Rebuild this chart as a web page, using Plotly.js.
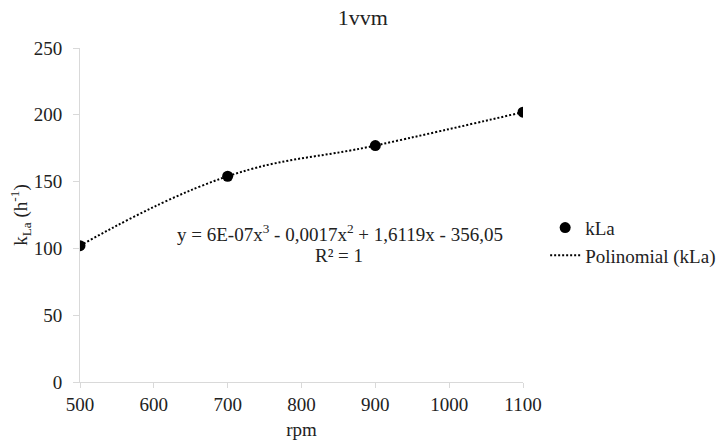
<!DOCTYPE html>
<html>
<head>
<meta charset="utf-8">
<script src="https://cdn.plot.ly/plotly-3.0.1.min.js"></script>
<style>
  html, body { margin: 0; padding: 0; background: #fff; }
  #chart { width: 717px; height: 442px; }
</style>
</head>
<body>
<div id="chart"></div>
<script>
// Agitation speed (rpm) and measured volumetric mass transfer coefficient kLa (h^-1) at 1 vvm
const rpm = [500, 700, 900, 1100];
const kLa = [102, 154, 177, 202];

const xTicks = [500, 600, 700, 800, 900, 1000, 1100];
const yTicks = [0, 50, 100, 150, 200, 250];

const equationText = 'y = 6E-07x<sup>3</sup> - 0,0017x<sup>2</sup> + 1,6119x - 356,05';
const r2Text = 'R² = 1';

const FONT = 'Liberation Serif';
const TEXT = '#222222';
const AXIS_GREY = '#d9d9d9';
const SIZE = 19;

const traces = [
  {
    x: rpm,
    y: kLa,
    type: 'scatter',
    mode: 'markers',
    name: 'kLa',
    marker: { color: '#000', size: 11 }
  },
  {
    x: rpm,
    y: kLa,
    type: 'scatter',
    mode: 'lines',
    name: 'Polinomial (kLa)',
    line: { color: '#000', width: 2, dash: '2px,2px', shape: 'spline', smoothing: 1.2 }
  }
];

const layout = {
  width: 717,
  height: 442,
  paper_bgcolor: '#fff',
  plot_bgcolor: '#fff',
  font: { family: FONT, size: SIZE, color: TEXT },
  margin: { l: 80, r: 194, t: 48, b: 60, autoexpand: false },
  title: {
    text: '1vvm',
    font: { family: FONT, size: 22, color: TEXT },
    x: 0.506, xref: 'container', xanchor: 'center',
    y: 0.96, yref: 'container', yanchor: 'middle'
  },
  xaxis: {
    range: [500, 1100],
    tickvals: xTicks,
    ticktext: xTicks.map(String),
    showgrid: false,
    zeroline: false,
    showline: true,
    linecolor: AXIS_GREY,
    linewidth: 1,
    ticks: 'outside',
    ticklen: 5,
    tickcolor: AXIS_GREY,
    tickfont: { family: FONT, size: SIZE, color: TEXT },
    title: { text: 'rpm', font: { family: FONT, size: SIZE, color: TEXT }, standoff: 8 }
  },
  yaxis: {
    range: [0, 250],
    tickvals: yTicks,
    ticktext: yTicks.map(String),
    showgrid: false,
    zeroline: false,
    showline: true,
    linecolor: AXIS_GREY,
    linewidth: 1,
    ticks: 'outside',
    ticklen: 6,
    tickcolor: AXIS_GREY,
    ticklabelstandoff: 7,
    tickfont: { family: FONT, size: SIZE, color: TEXT },
    title: {
      text: 'k<sub>La</sub> (h<sup>-1</sup>)',
      font: { family: FONT, size: SIZE, color: TEXT },
      standoff: 0
    }
  },
  showlegend: true,
  legend: {
    x: 1.05, xanchor: 'left',
    y: 0.42, yanchor: 'middle',
    font: { family: FONT, size: SIZE, color: TEXT },
    bgcolor: 'rgba(0,0,0,0)',
    itemwidth: 30,
    tracegroupgap: 0
  },
  annotations: [
    {
      text: equationText,
      xref: 'paper', yref: 'paper',
      x: 0.587, y: 0.446,
      xanchor: 'center', yanchor: 'middle',
      showarrow: false,
      font: { family: FONT, size: SIZE, color: TEXT }
    },
    {
      text: r2Text,
      xref: 'paper', yref: 'paper',
      x: 0.585, y: 0.38,
      xanchor: 'center', yanchor: 'middle',
      showarrow: false,
      font: { family: FONT, size: SIZE, color: TEXT }
    }
  ]
};

Plotly.newPlot('chart', traces, layout, { displayModeBar: false, staticPlot: true });
</script>
</body>
</html>
